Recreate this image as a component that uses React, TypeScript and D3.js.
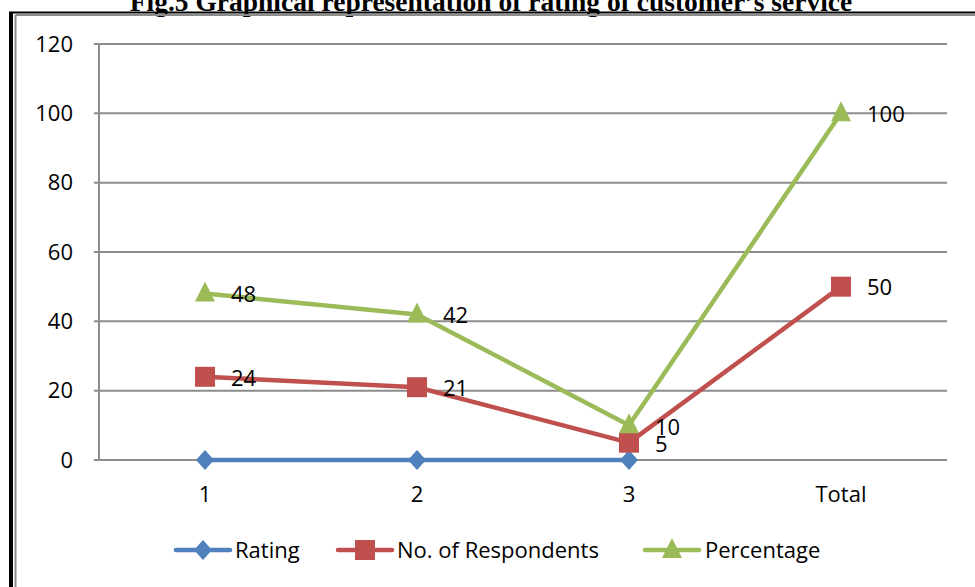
import * as d3 from 'd3';

const categories = ['1', '2', '3', 'Total'];
const ratingValues: (number | null)[] = [0, 0, 0, null];
const respondentValues = [24, 21, 5, 50];
const percentageValues = [48, 42, 10, 100];
const yTicks = [0, 20, 40, 60, 80, 100, 120];

const seriesList = [
	{ name: 'Rating', values: ratingValues, color: '#4F81BD', marker: 'diamond', labels: false },
	{ name: 'No. of Respondents', values: respondentValues, color: '#C0504D', marker: 'square', labels: true },
	{ name: 'Percentage', values: percentageValues, color: '#9BBB59', marker: 'triangle', labels: true },
];

const width = 975;
const height = 587;
const margin = { top: 44, right: 28, bottom: 127, left: 99 };
const font = '"Open Sans", "Noto Sans", sans-serif';

const Marker = ({ kind, x, y, color }: { kind: string, x: number, y: number, color: string }) => {
	if (kind === 'diamond') {
		return <path d={`M${x},${y - 10}L${x + 9},${y}L${x},${y + 10}L${x - 9},${y}Z`} fill={color} />;
	}
	if (kind === 'square') {
		return <rect x={x - 10} y={y - 10} width={20} height={20} fill={color} />;
	}
	return <path d={`M${x},${y - 12}L${x + 10},${y + 8}L${x - 10},${y + 8}Z`} fill={color} />;
};

export default function App() {
	const x = d3.scaleBand()
		.domain(categories)
		.range([margin.left, width - margin.right])
		.padding(0);
	const cx = (c: string) => (x(c) as number) + x.bandwidth() / 2;

	const y = d3.scaleLinear()
		.domain([0, 120])
		.range([height - margin.bottom, margin.top]);

	const line = d3.line<number | null>()
		.defined(d => d !== null)
		.x((_, i) => cx(categories[i]))
		.y(d => y(d as number));

	const legendItems = [
		{ lineX: 176, textX: 235 },
		{ lineX: 338, textX: 397 },
		{ lineX: 645, textX: 705 },
	];

	return (
		<svg width={width} height={height} style={{ position: 'absolute', left: 0, top: 0 }}
			fontFamily={font}>
			<rect width={width} height={height} fill="#fff" />
			<text x={491} y={11} textAnchor="middle" fontFamily='"Liberation Serif", serif'
				fontWeight="bold" fontSize={27.5} fill="#000">
				Fig.5 Graphical representation of rating of customer’s service
			</text>
			{/* frame */}
			<line x1={9} x2={975} y1={12.5} y2={12.5} stroke="#000" strokeWidth={2} />
			<line x1={11} x2={11} y1={12} y2={587} stroke="#000" strokeWidth={4} />
			<line x1={15.5} x2={975} y1={15} y2={15} stroke="#8c8c8c" strokeWidth={2} />
			<line x1={15.5} x2={15.5} y1={15} y2={587} stroke="#8c8c8c" strokeWidth={2} />

			{/* gridlines */}
			{yTicks.map(t => (
				<g key={t}>
					<line x1={margin.left - 5} x2={width - margin.right} y1={y(t)} y2={y(t)}
						stroke="#8c8c8c" strokeWidth={2} />
					<text x={73} y={y(t)} dy="0.35em" textAnchor="end" fontSize={22} fill="#000">{t}</text>
				</g>
			))}
			<line x1={margin.left} x2={margin.left} y1={y(120)} y2={y(0)} stroke="#8c8c8c" strokeWidth={2} />

			{categories.map(c => (
				<text key={c} x={cx(c)} y={494} dy="0.35em" textAnchor="middle" fontSize={22} fill="#000">{c}</text>
			))}

			{seriesList.map(s => (
				<g key={s.name}>
					<path d={line(s.values) || ''} fill="none" stroke={s.color} strokeWidth={4.5}
						strokeLinejoin="round" strokeLinecap="round" />
					{s.values.map((v, i) => v === null ? null : (
						<Marker key={i} kind={s.marker} x={cx(categories[i])} y={y(v)} color={s.color} />
					))}
					{s.labels && s.values.map((v, i) => v === null ? null : (
						<text key={'l' + i} x={cx(categories[i]) + 26} y={y(v) + (categories[i] === '3' ? 2 : 1)}
							dy="0.35em" fontSize={22} fill="#000">{v}</text>
					))}
				</g>
			))}

			{/* legend */}
			{seriesList.map((s, i) => (
				<g key={'lg' + s.name}>
					<line x1={legendItems[i].lineX} x2={legendItems[i].lineX + 54} y1={550} y2={550}
						stroke={s.color} strokeWidth={4.5} strokeLinecap="round" />
					<Marker kind={s.marker} x={legendItems[i].lineX + 27} y={550} color={s.color} />
					<text x={legendItems[i].textX} y={550} dy="0.35em" fontSize={22} fill="#000">{s.name}</text>
				</g>
			))}
		</svg>
	);
}
